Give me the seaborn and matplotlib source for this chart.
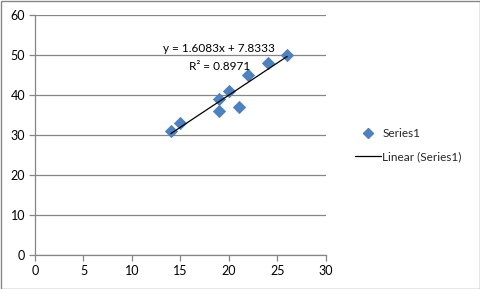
import matplotlib
matplotlib.use("Agg")
import matplotlib.pyplot as plt
import seaborn as sns
import numpy as np
import pandas as pd
from matplotlib.lines import Line2D
from matplotlib.patches import Rectangle

x_vals = [14, 15, 19, 19, 20, 21, 22, 24, 26]
y_vals = [31, 33, 39, 36, 41, 37, 45, 48, 50]
series_name = "Series1"
trend_name = "Linear (Series1)"
x_ticks = [0, 5, 10, 15, 20, 25, 30]
y_ticks = [0, 10, 20, 30, 40, 50, 60]

df = pd.DataFrame({"x": x_vals, "y": y_vals})

sns.set_theme(style="white")
plt.rcParams['font.family'] = ['Lato', 'DejaVu Sans']

W, H = 481, 289
fig = plt.figure(figsize=(W / 100, H / 100), dpi=100)
fig.patch.set_facecolor("white")
ax = fig.add_axes([35 / W, (H - 255) / H, (326 - 35) / W, (255 - 15) / H])

blue = "#4F81BD"
sns.scatterplot(data=df, x="x", y="y", marker="D", s=46, color=blue,
                edgecolor=blue, linewidth=0, ax=ax, zorder=3)

slope, intercept = np.polyfit(df["x"], df["y"], 1)
pred = slope * df["x"] + intercept
ss_res = ((df["y"] - pred) ** 2).sum()
ss_tot = ((df["y"] - df["y"].mean()) ** 2).sum()
r2 = 1 - ss_res / ss_tot
xl = np.array([df["x"].min(), df["x"].max()])
sns.lineplot(x=xl, y=slope * xl + intercept, color="black", linewidth=0.9, ax=ax, zorder=4)

ax.set_xlim(0, 30)
ax.set_ylim(0, 60)
ax.set_xticks(x_ticks)
ax.set_yticks(y_ticks)
ax.set_xticklabels([str(t) for t in x_ticks])
ax.set_yticklabels([str(t) for t in y_ticks])
ax.set_xlabel("")
ax.set_ylabel("")
ax.yaxis.grid(True, color="#868686", linewidth=0.9)
ax.xaxis.grid(False)
ax.set_axisbelow(True)
for s in ["top", "right"]:
    ax.spines[s].set_visible(False)
for s in ["left", "bottom"]:
    ax.spines[s].set_color("#868686")
    ax.spines[s].set_linewidth(0.9)
ax.tick_params(axis="both", which="both", direction="out", length=4, width=0.9,
               color="#868686", labelsize=9, labelcolor="black", pad=3)
ax.tick_params(axis="x", bottom=True)
ax.tick_params(axis="y", left=True)

ax.text(19.0, 51.6, f"y = {slope:.4f}x + {intercept:.4f}", ha="center", va="center",
        fontsize=8.5, color="black")
ax.text(19.0, 47.2, f"R² = {r2:.4f}", ha="center", va="center",
        fontsize=8.5, color="black")

handles = [
    Line2D([], [], marker="D", color=blue, linestyle="none", markersize=5.5),
    Line2D([], [], color="black", linewidth=0.9),
]
fig.legend(handles, [series_name, trend_name], loc="center left",
           bbox_to_anchor=(344 / W, 1 - 145 / H), frameon=False, fontsize=8.5,
           handlelength=2.2, handletextpad=0.15, labelspacing=1.0)

fig.patches.append(Rectangle((0.5 / W, 0.5 / H), 1 - 1.5 / W, 1 - 1.5 / H,
                             transform=fig.transFigure, fill=False,
                             edgecolor="#868686", linewidth=1.0))

fig.savefig("out.png", dpi=100)
